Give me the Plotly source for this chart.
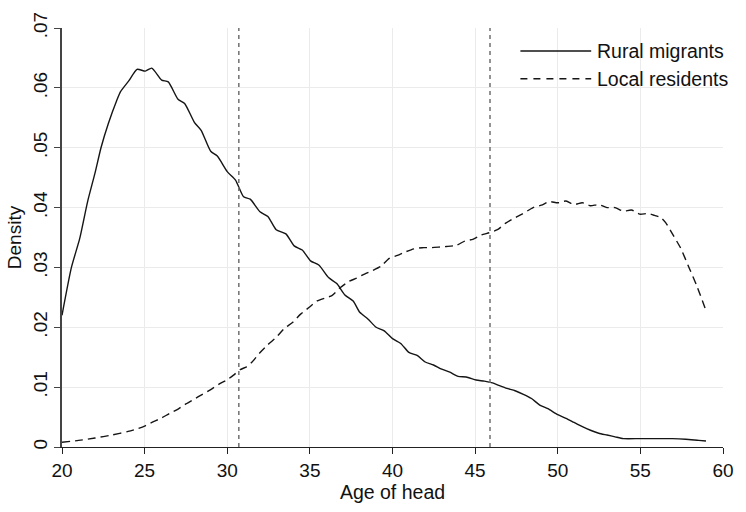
import plotly.graph_objects as go

# ---- data ----
rural_x = [20.0, 20.57, 21.07, 21.55, 22.0, 22.36, 22.8, 23.3, 23.55, 24.05, 24.54, 25.04, 25.43,
           26.03, 26.43, 27.02, 27.42, 28.02, 28.42, 29.0, 29.4, 30.0, 30.5, 30.99, 31.39, 31.98,
           32.46, 32.96, 33.55, 34.05, 34.54, 35.04, 35.54, 36.13, 36.63, 37.12, 37.62, 38.02,
           38.51, 39.01, 39.5, 40.0, 40.5, 40.99, 41.49, 41.98, 42.48, 42.98, 43.47, 43.97, 44.46,
           45.06, 45.56, 46.05, 46.43, 46.92, 47.42, 47.92, 48.41, 48.91, 49.4, 50.0, 50.5, 50.99,
           51.49, 51.98, 52.48, 52.98, 53.47, 53.97, 54.96, 55.95, 56.94, 57.74, 58.53, 58.97]
rural_y = [0.022, 0.030, 0.0348, 0.0410, 0.0458, 0.0500, 0.0540, 0.0578, 0.0594, 0.0612, 0.0631, 0.0628,
           0.0633, 0.0613, 0.061, 0.0581, 0.0574, 0.0542, 0.0529, 0.0494, 0.0486, 0.046, 0.0446, 0.0418,
           0.0414, 0.0393, 0.0385, 0.0363, 0.0356, 0.0336, 0.0329, 0.0311, 0.0304, 0.0283, 0.0273,
           0.0254, 0.0244, 0.0225, 0.0214, 0.02, 0.0194, 0.0181, 0.0173, 0.0158, 0.0153, 0.0142,
           0.0137, 0.013, 0.0125, 0.0118, 0.0117, 0.0112, 0.011, 0.0107, 0.0103, 0.0098, 0.0094,
           0.0088, 0.0081, 0.007, 0.0064, 0.0054, 0.0048, 0.0041, 0.0034, 0.0028, 0.0023, 0.002,
           0.0017, 0.0014, 0.0014, 0.0014, 0.0014, 0.0013, 0.0011, 0.0010]

local_x = [20.0, 21.0, 22.0, 23.0, 24.0, 24.5, 25.0, 25.5, 26.0, 26.5, 27.0, 27.5, 28.0, 28.5, 29.0,
           29.5, 29.98, 30.38, 30.77, 31.17, 31.47, 31.96, 32.46, 32.96, 33.45, 33.95, 34.44, 34.94,
           35.44, 35.93, 36.33, 36.83, 37.32, 37.82, 38.31, 38.81, 39.31, 39.8, 40.3, 40.79, 41.29,
           41.79, 42.28, 42.78, 43.27, 43.87, 44.37, 44.86, 45.36, 45.85, 46.35, 46.85, 47.34, 47.84,
           48.51, 49.01, 49.5, 50.0, 50.5, 50.99, 51.49, 51.98, 52.48, 52.98, 53.47, 53.97, 54.46,
           54.96, 55.46, 55.85, 56.25, 56.55, 56.94, 57.44, 57.94, 58.43, 58.97]
local_y = [0.0008, 0.0011, 0.0015, 0.002, 0.0026, 0.003, 0.0035, 0.0042, 0.0048, 0.0056, 0.0063,
           0.0072, 0.008, 0.0088, 0.0096, 0.0105, 0.0112, 0.012, 0.0129, 0.0134, 0.0141, 0.0157,
           0.0171, 0.0183, 0.0198, 0.0208, 0.0222, 0.0233, 0.0244, 0.0249, 0.0253, 0.0266, 0.0276,
           0.0282, 0.0289, 0.0295, 0.0302, 0.0315, 0.032, 0.0326, 0.0331, 0.0333, 0.0333, 0.0334,
           0.0335, 0.0337, 0.0344, 0.0347, 0.0354, 0.0358, 0.0363, 0.0374, 0.0382, 0.0389, 0.04,
           0.0404, 0.041, 0.0408, 0.0411, 0.0405, 0.0408, 0.0403, 0.0405, 0.04, 0.04, 0.0394, 0.0396,
           0.0389, 0.039, 0.0387, 0.0383, 0.0374, 0.0356, 0.0332, 0.03, 0.0268, 0.0228]

ref_lines = [30.7, 45.9]
series_names = ["Rural migrants", "Local residents"]
x_ticks = [20, 25, 30, 35, 40, 45, 50, 55, 60]
y_ticks = [0, 0.01, 0.02, 0.03, 0.04, 0.05, 0.06, 0.07]
y_ticktext = ["0", ".01", ".02", ".03", ".04", ".05", ".06", ".07"]

FONT = "Liberation Sans, Arial, Helvetica, sans-serif"
LINE = "#151515"

fig = go.Figure()
fig.add_trace(go.Scatter(x=rural_x, y=rural_y, mode="lines", name=series_names[0],
                         line=dict(color=LINE, width=1.4, shape="spline", smoothing=0.6),
                         showlegend=False))
fig.add_trace(go.Scatter(x=local_x, y=local_y, mode="lines", name=series_names[1],
                         line=dict(color=LINE, width=1.4, dash="8px,5px", shape="spline", smoothing=0.6),
                         showlegend=False))

for xv in ref_lines:
    fig.add_shape(type="line", xref="x", yref="paper", x0=xv, x1=xv, y0=0, y1=1,
                  line=dict(color="#707070", width=1.5, dash="4px,4px"), layer="above")

# legend (custom, Stata-like long keys)
legend_rows = [(0.9451, "solid"), (0.8789, "7px,6px")]
for (yp, dash), name in zip(legend_rows, series_names):
    fig.add_shape(type="line", xref="paper", yref="paper", x0=0.6935, x1=0.8006, y0=yp, y1=yp,
                  line=dict(color=LINE, width=1.4, dash=dash))
    fig.add_annotation(xref="paper", yref="paper", x=0.8065, y=yp, text=name, showarrow=False,
                       xanchor="left", yanchor="middle", font=dict(family=FONT, size=19.5, color="#111"))

fig.update_layout(
    width=746, height=512,
    margin=dict(l=62, r=12, t=23, b=51.5),
    paper_bgcolor="white", plot_bgcolor="white",
    font=dict(family=FONT, size=19, color="#111"),
)
fig.update_xaxes(range=[20, 60], tickvals=x_ticks, ticks="outside", ticklen=6, tickwidth=1.2,
                 tickcolor="#222", showline=True, linecolor="#222", linewidth=1.2,
                 showgrid=True, gridcolor="#ebebeb", gridwidth=1.3, zeroline=False,
                 tickfont=dict(size=19), title=dict(text="Age of head", font=dict(size=19.5), standoff=5))
fig.update_yaxes(range=[0, 0.07], tickvals=y_ticks, ticktext=y_ticktext, tickangle=-90,
                 ticks="outside", ticklen=6, tickwidth=1.2, tickcolor="#444",
                 showline=True, linecolor="#444", linewidth=1.5,
                 showgrid=True, gridcolor="#ebebeb", gridwidth=1.3, zeroline=False,
                 tickfont=dict(size=19), title=dict(text="Density", font=dict(size=19), standoff=3))

fig.write_html("out.html")
